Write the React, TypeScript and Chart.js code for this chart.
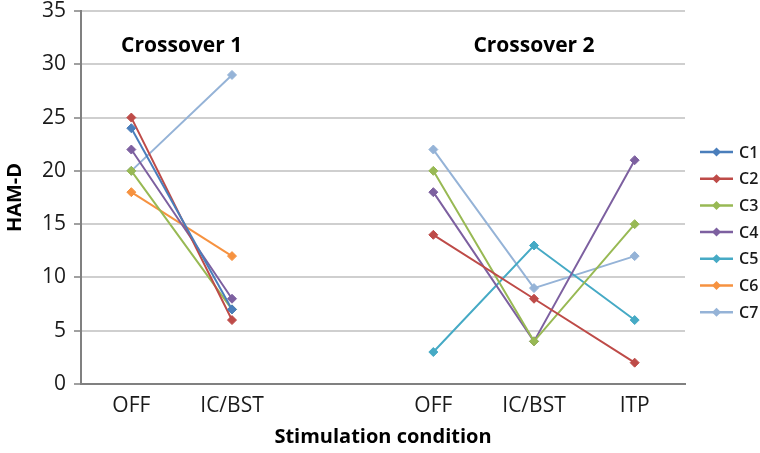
import React, { useEffect, useRef } from "react";
import { Chart, registerables } from "chart.js";

Chart.register(...registerables);

const categories = ["OFF", "IC/BST", "", "OFF", "IC/BST", "ITP"];
const seriesNames = ["C1", "C2", "C3", "C4", "C5", "C6", "C7"];
const c1 = [24, 7, null, null, null, null];
const c2 = [25, 6, null, 14, 8, 2];
const c3 = [20, 7, null, 20, 4, 15];
const c4 = [22, 8, null, 18, 4, 21];
const c5 = [null, null, null, 3, 13, 6];
const c6 = [18, 12, null, null, null, null];
const c7 = [20, 29, null, 22, 9, 12];
const seriesValues = [c1, c2, c3, c4, c5, c6, c7];
const seriesColors = ["#4A7EBB", "#BE4B48", "#98B954", "#7D60A0", "#46AAC5", "#F69240", "#95B3D7"];
const groupLabels = ["Crossover 1", "Crossover 2"];
const yTitle = "HAM-D";
const xTitle = "Stimulation condition";

const FONT = "'Open Sans', sans-serif";

const overlayPlugin = {
  id: "overlay",
  afterDraw(chart: any) {
    const ctx = chart.ctx;
    const xs = chart.scales.x;
    const ys = chart.scales.y;
    const area = chart.chartArea;
    ctx.save();
    ctx.font = `bold 21px ${FONT}`;
    ctx.fillStyle = "#000";
    ctx.textAlign = "center";
    ctx.textBaseline = "middle";
    const gy = ys.getPixelForValue(31.7);
    const g1x = (xs.getPixelForValue(0) + xs.getPixelForValue(1)) / 2;
    const g2x = xs.getPixelForValue(4);
    ctx.fillText(groupLabels[0], g1x, gy);
    ctx.fillText(groupLabels[1], g2x, gy);
    const lx = area.right + 15;
    const startY = 152;
    const step = 26.7;
    chart.data.datasets.forEach((ds: any, i: number) => {
      const y = startY + i * step;
      ctx.strokeStyle = ds.borderColor;
      ctx.lineWidth = 2.5;
      ctx.beginPath();
      ctx.moveTo(lx, y);
      ctx.lineTo(lx + 33, y);
      ctx.stroke();
      ctx.fillStyle = ds.borderColor;
      ctx.beginPath();
      const cx = lx + 16.5;
      const r = 4.5;
      ctx.moveTo(cx, y - r);
      ctx.lineTo(cx + r, y);
      ctx.lineTo(cx, y + r);
      ctx.lineTo(cx - r, y);
      ctx.closePath();
      ctx.fill();
      ctx.fillStyle = "#1a1a1a";
      ctx.font = `600 16px ${FONT}`;
      ctx.textAlign = "left";
      ctx.textBaseline = "middle";
      ctx.fillText(ds.label, lx + 39, y + 1);
    });
    ctx.restore();
  },
};

export default function App() {
  const ref = useRef<HTMLCanvasElement | null>(null);
  useEffect(() => {
    if (!ref.current) return;
    const chart = new Chart(ref.current, {
      type: "line",
      data: {
        labels: categories,
        datasets: seriesNames.map((name, i) => ({
          label: name,
          data: seriesValues[i],
          borderColor: seriesColors[i],
          backgroundColor: seriesColors[i],
          borderWidth: 2,
          pointStyle: "rectRot",
          pointRadius: 4.5,
          pointBorderWidth: 1,
          spanGaps: false,
          tension: 0,
        })),
      },
      options: {
        animation: false,
        responsive: true,
        maintainAspectRatio: false,
        layout: { padding: { left: 0, top: 11, right: 75, bottom: 0 } },
        plugins: {
          legend: { display: false },
          tooltip: { enabled: false },
        },
        scales: {
          x: {
            type: "category",
            offset: true,
            grid: { display: false, drawTicks: false },
            border: { display: true, color: "#808080", width: 2 },
            ticks: { color: "#1a1a1a", font: { family: FONT, size: 21 }, padding: 9, maxRotation: 0, autoSkip: false },
            title: { display: true, text: xTitle, color: "#000", font: { family: FONT, size: 20, weight: "bold" }, padding: { top: 4, bottom: 4 } },
            afterFit: (s: any) => { s.height = 69; s.paddingLeft = 0; s.paddingRight = 0; },
          },
          y: {
            min: 0,
            max: 35,
            ticks: { stepSize: 5, color: "#1a1a1a", font: { family: FONT, size: 21 }, padding: 8 },
            grid: { color: "#cfcfcf", lineWidth: 2, tickLength: 7, tickColor: "#808080", tickWidth: 1.5 },
            border: { display: true, color: "#808080", width: 2 },
            title: { display: true, text: yTitle, color: "#000", font: { family: FONT, size: 20, weight: "bold" }, padding: { top: 3, bottom: 3 } },
            afterFit: (s: any) => { s.width = 81; s.paddingTop = 0; s.paddingBottom = 0; },
          },
        },
      },
      plugins: [overlayPlugin],
    } as any);
    return () => chart.destroy();
  }, []);
  return (
    <div style={{ position: "fixed", left: 0, top: 0, width: 760, height: 453, background: "#fff" }}>
      <canvas ref={ref} />
    </div>
  );
}
